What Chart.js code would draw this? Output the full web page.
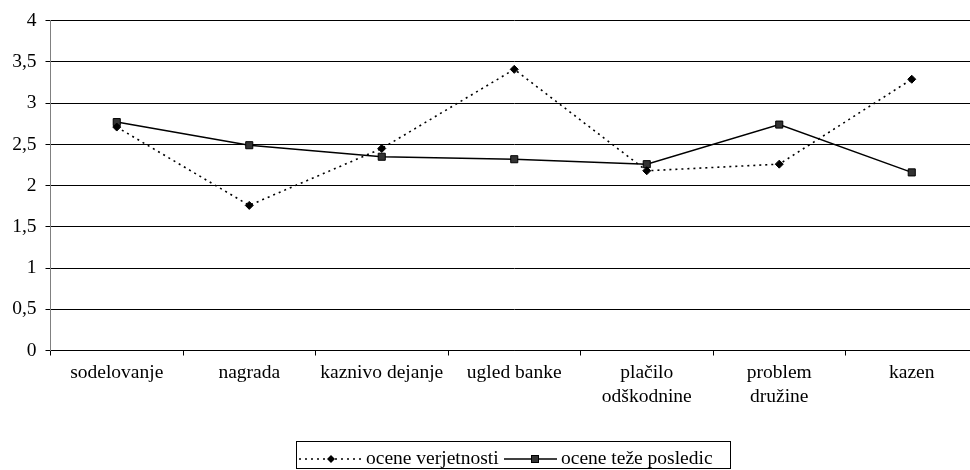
<!DOCTYPE html>
<html>
<head>
<meta charset="utf-8">
<script src="https://cdn.jsdelivr.net/npm/chart.js@4.4.1/dist/chart.umd.min.js"></script>
<style>
  html, body { margin: 0; padding: 0; background: #fff; overflow: hidden; font-family: 'Liberation Serif', 'Times New Roman', serif; }
  #wrap { width: 970px; height: 470px; overflow: hidden; }
</style>
</head>
<body>
<div id="wrap"><canvas id="myChart" width="984" height="470"></canvas></div>
<script>
// podatki
const categories = ['sodelovanje', 'nagrada', 'kaznivo dejanje', 'ugled banke',
  ['plačilo', 'odškodnine'], ['problem', 'družine'], 'kazen'];
const oceneVerjetnosti = [2.71, 1.76, 2.45, 3.41, 2.18, 2.26, 3.29];
const oceneTezePosledic = [2.77, 2.49, 2.35, 2.32, 2.26, 2.74, 2.16];
const yTicks = [0, 0.5, 1, 1.5, 2, 2.5, 3, 3.5, 4];

const font = { family: "'Liberation Serif', 'Times New Roman', serif", size: 19.5 };

// legenda v okvirju pod grafom
const boxLegend = {
  id: 'boxLegend',
  afterDraw(chart) {
    const ctx = chart.ctx;
    const ds = chart.data.datasets;
    const cy = 459;
    ctx.save();
    ctx.strokeStyle = '#000';
    ctx.lineWidth = 1;
    ctx.strokeRect(296.5, 441.5, 434, 27);

    ctx.font = font.size + 'px ' + font.family;
    ctx.fillStyle = '#000';
    ctx.textBaseline = 'middle';

    // prva postavka: pikčasta črta z rombom
    ctx.beginPath();
    ctx.setLineDash(ds[0].borderDash);
    ctx.lineWidth = ds[0].borderWidth;
    ctx.moveTo(299, cy);
    ctx.lineTo(362, cy);
    ctx.stroke();
    ctx.setLineDash([]);
    ctx.beginPath();
    ctx.moveTo(331, cy - 4);
    ctx.lineTo(335, cy);
    ctx.lineTo(331, cy + 4);
    ctx.lineTo(327, cy);
    ctx.closePath();
    ctx.fill();
    ctx.fillText(ds[0].label, 366, cy);

    // druga postavka: polna črta s kvadratom
    ctx.beginPath();
    ctx.lineWidth = ds[1].borderWidth;
    ctx.moveTo(504, cy);
    ctx.lineTo(557, cy);
    ctx.stroke();
    ctx.fillStyle = ds[1].pointBackgroundColor;
    ctx.fillRect(531.5, cy - 3.5, 7, 7);
    ctx.lineWidth = 1;
    ctx.strokeRect(531.5, cy - 3.5, 7, 7);
    ctx.fillStyle = '#000';
    ctx.fillText(ds[1].label, 561, cy);
    ctx.restore();
  }
};

const data = {
  labels: categories,
  datasets: [{
      label: 'ocene verjetnosti',
      data: oceneVerjetnosti,
      borderColor: '#000',
      borderWidth: 1.6,
      borderDash: [2, 4],
      pointStyle: 'rectRot',
      pointRadius: 4,
      pointBackgroundColor: '#000',
      pointBorderColor: '#000',
      pointBorderWidth: 1,
      tension: 0
    },
    {
      label: 'ocene teže posledic',
      data: oceneTezePosledic,
      borderColor: '#000',
      borderWidth: 1.5,
      pointStyle: 'rect',
      pointRadius: 5,
      pointBackgroundColor: '#333',
      pointBorderColor: '#000',
      pointBorderWidth: 1,
      tension: 0
    }
  ]
};

const config = {
  type: 'line',
  data: data,
  options: {
    responsive: false,
    devicePixelRatio: 1,
    animation: false,
    layout: { padding: { left: 0, top: 20, right: 2, bottom: 0 } },
    plugins: { legend: { display: false }, tooltip: { enabled: false } },
    scales: {
      x: {
        offset: true,
        grid: { offset: true, drawOnChartArea: false, drawTicks: true, tickLength: 5, color: '#000' },
        border: { display: true, color: '#000' },
        ticks: { color: '#000', font: font, padding: 6, maxRotation: 0, autoSkip: false },
        afterFit(scale) { scale.height = 119.5; }
      },
      y: {
        min: 0,
        max: 4,
        afterBuildTicks(scale) { scale.ticks = yTicks.map(v => ({ value: v })); },
        grid: { color: '#000', lineWidth: 1, tickLength: 5 },
        border: { display: true, color: '#808080' },
        ticks: {
          color: '#000', font: font, padding: 9,
          callback: v => String(v).replace('.', ',')
        },
        afterFit(scale) { scale.width = 50.5; }
      }
    }
  },
  plugins: [boxLegend]
};

const myChart = new Chart(document.getElementById('myChart'), config);
</script>
</body>
</html>
